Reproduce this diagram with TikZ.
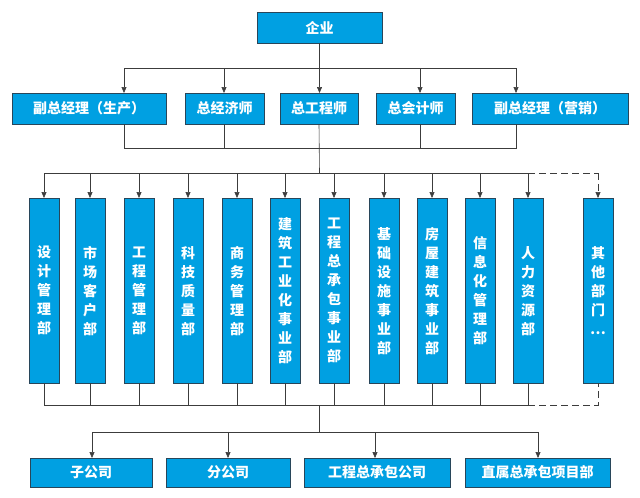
\documentclass[tikz,border=0pt]{standalone}
\usepackage{fontspec}
\setmainfont{Noto Sans CJK SC}
\usetikzlibrary{positioning,calc,arrows.meta}
\definecolor{boxblue}{RGB}{0,160,226}
\definecolor{boxedge}{RGB}{40,70,90}
\definecolor{linegray}{RGB}{60,60,60}

\tikzset{
  orgbox/.style={draw=boxedge, fill=boxblue, text=white, font=\fontsize{14}{15}\selectfont\bfseries, inner sep=0pt},
  deptbox/.style={orgbox, minimum width=30pt, minimum height=185pt, align=center, font=\fontsize{14}{19}\selectfont\bfseries},
  link/.style={linegray, semithick},
  arrowlink/.style={link, -{Triangle[length=6pt,width=5pt]}},
  longdash/.style={dash pattern=on 7pt off 4pt},
}

\begin{document}
\begin{tikzpicture}[x=1pt, y=-1pt, >=Stealth]
    \useasboundingbox (0,0) rectangle (640,498);
    % Top
    \node[orgbox, minimum width=125pt, minimum height=31pt] (top) at (319.5,27.5) {企业};
    % Second row
    \node[orgbox, minimum width=154pt, minimum height=31pt] (vp1) at (89,108.5) {副总经理（生产）};
    \node[orgbox, minimum width=79pt, minimum height=31pt] (econ) at (224.5,108.5) {总经济师};
    \node[orgbox, minimum width=78pt, minimum height=31pt] (eng) at (319,108.5) {总工程师};
    \node[orgbox, minimum width=79pt, minimum height=31pt] (acct) at (415.5,108.5) {总会计师};
    \node[orgbox, minimum width=156pt, minimum height=31pt] (vp2) at (550,108.5) {副总经理（营销）};
    \coordinate (bus1) at (319.5,68);
    \draw[link] (top.south) -- (bus1);
    \draw[link] (124,68) -- (516,68);
    \foreach \n/\x in {vp1/124, econ/224, eng/319.5, acct/420, vp2/516} {
        \draw[arrowlink] (\x,68) -- (\x,93);
    }
    \draw[link] (124,124) -- (124,148) -- (516,148) -- (516,124);
    \draw[link] (224,124) -- (224,148);
    \draw[link] (420,124) -- (420,148);
    \draw[link] (eng.south) -- (319.5,173);
    % Departments
    \foreach \i/\x/\t in {1/44/{设\\计\\管\\理\\部}, 2/90/{市\\场\\客\\户\\部}, 3/139/{工\\程\\管\\理\\部},
        4/188/{科\\技\\质\\量\\部}, 5/237/{商\\务\\管\\理\\部}, 6/285/{建\\筑\\工\\业\\化\\事\\业\\部},
        7/334/{工\\程\\总\\承\\包\\事\\业\\部}, 8/384/{基\\础\\设\\施\\事\\业\\部}, 9/432/{房\\屋\\建\\筑\\事\\业\\部},
        10/480/{信\\息\\化\\管\\理\\部}, 11/528/{人\\力\\资\\源\\部}} {
        \node[deptbox, anchor=north] (d\i) at (\x,198) {\t};
        \draw[arrowlink] (\x,173) -- (d\i.north);
        \draw[link] (d\i.south) -- (\x,405);
    }
    \node[deptbox, anchor=north] (d12) at (598,198) {其\\他\\部\\门\\…};
    \draw[link] (44,173) -- (528,173);
    \draw[link, longdash] (528,173) -- (598,173);
    \draw[arrowlink, longdash] (598,173) -- (d12.north);
    \draw[link] (44,405) -- (528,405);
    \draw[link, longdash] (528,405) -- (598,405) -- (d12.south);
    \draw[link] (319.5,405) -- (319.5,432);
    % Bottom row
    \node[orgbox, minimum width=122pt, minimum height=29pt] (sub) at (91,472.5) {子公司};
    \node[orgbox, minimum width=124pt, minimum height=29pt] (branch) at (228,472.5) {分公司};
    \node[orgbox, minimum width=146pt, minimum height=29pt] (epc) at (377,472.5) {工程总承包公司};
    \node[orgbox, minimum width=145pt, minimum height=29pt] (proj) at (537.5,472.5) {直属总承包项目部};
    \draw[link] (92,432) -- (538,432);
    \foreach \x in {92,228,375,538} {
        \draw[arrowlink] (\x,432) -- (\x,458);
    }
\end{tikzpicture}
\end{document}
